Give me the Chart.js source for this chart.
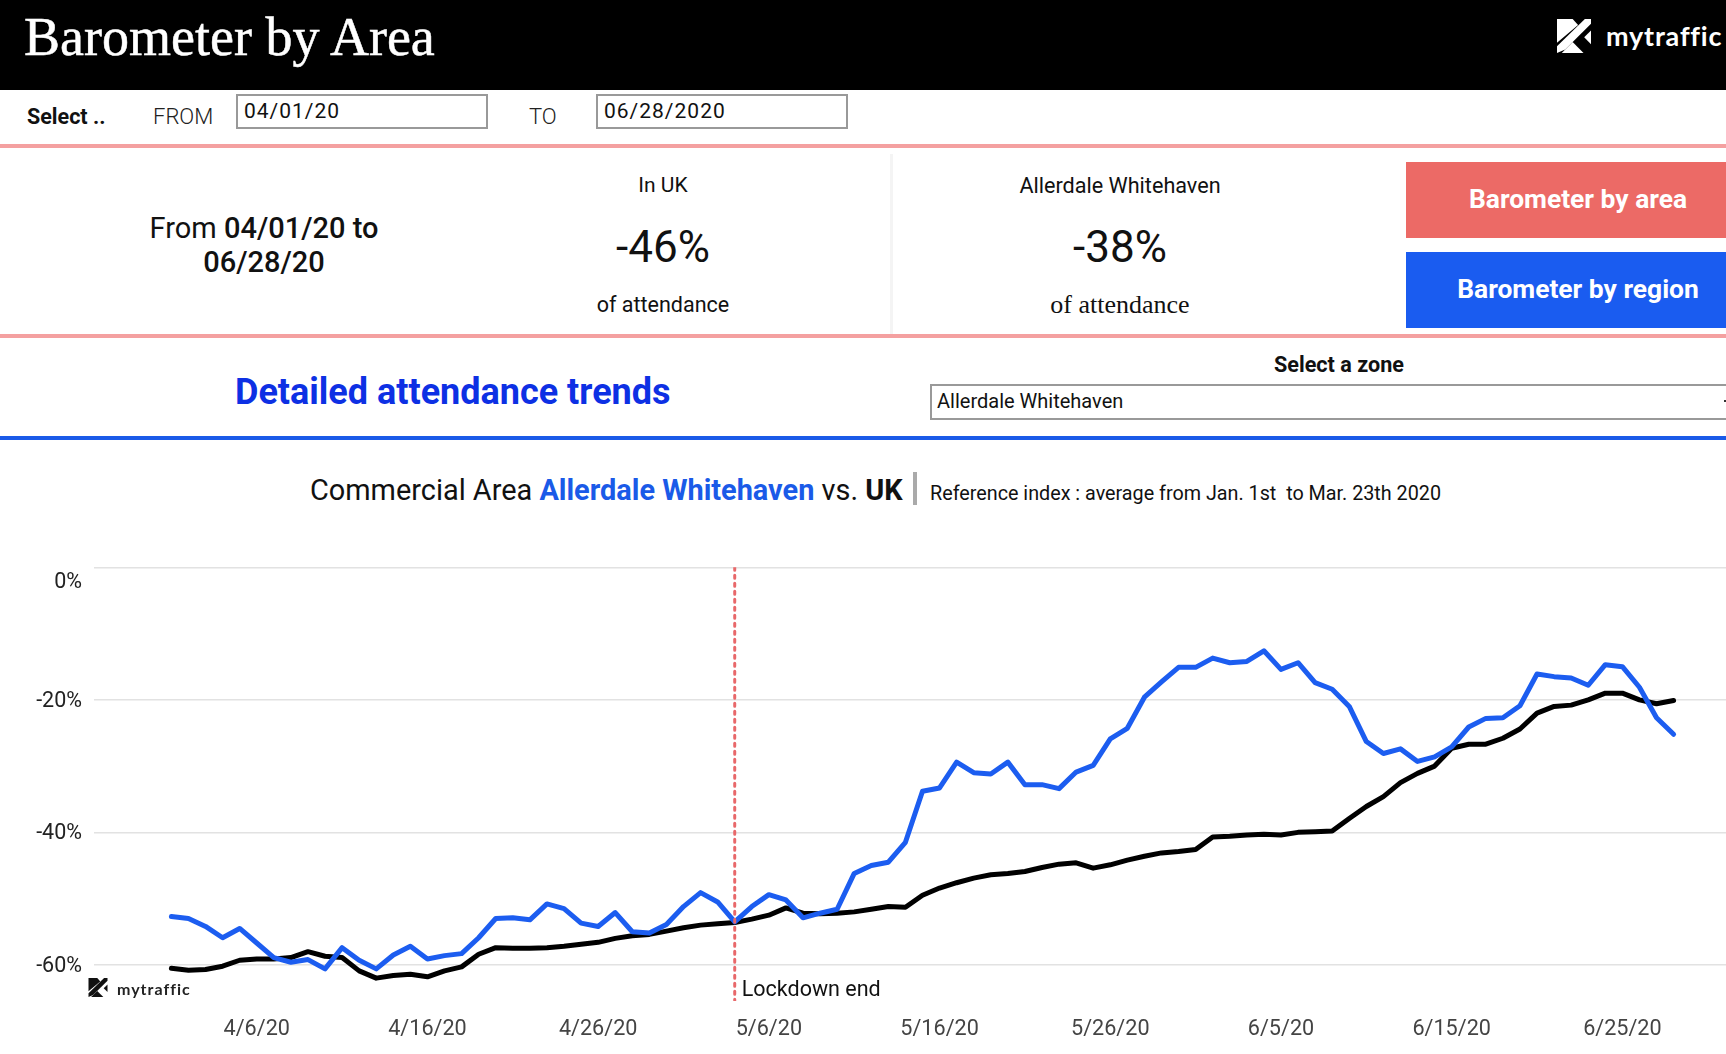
<!DOCTYPE html>
<html>
<head>
<meta charset="utf-8">
<title>Barometer by Area</title>
<script src="https://cdn.jsdelivr.net/npm/chart.js@4"></script>
<style>
    html, body { margin: 0; padding: 0; background: #fff; }
    body { position: relative; width: 1726px; height: 1054px; overflow: hidden; font-family: Roboto, sans-serif; color: #111; }
    .abs { position: absolute; }
    .t { position: absolute; white-space: nowrap; line-height: 1; transform: translateY(-50%); }
    .c { transform: translate(-50%, -50%); text-align: center; }
    .box { position: absolute; box-sizing: border-box; border: 2px solid #999; background: #fff; }
    b { font-weight: 700; }
    canvas { position: absolute; left: 0; top: 520px; }
</style>
</head>
<body>
<div class="abs" style="left:0;top:0;width:1726px;height:90px;background:#000"></div>
<div class="t" style="left:24px;top:37px;font:54px 'Liberation Serif',serif;color:#fff;-webkit-text-stroke:0.5px #fff">Barometer by Area</div>
<svg class="abs" style="left:1557px;top:19px" width="34" height="34" viewBox="0 0 100 100" fill="#fff">
    <polygon points="0,0 46,0 62,18 0,70"/>
    <polygon points="82,0 100,0 100,14 24,90 0,100 0,80"/>
    <polygon points="100,34 100,74 80,54"/>
    <polygon points="46,68 78,100 14,100"/>
</svg>
<div class="t" style="left:1606px;top:35px;font:700 27px Lato,sans-serif;color:#fff;letter-spacing:0.8px">mytraffic</div>

<div class="t" style="left:27px;top:117px;font-size:21.5px;font-weight:700">Select ..</div>
<div class="t" style="left:153px;top:117px;font-size:22px;font-weight:300;color:#222">FROM</div>
<div class="box" style="left:236px;top:94px;width:252px;height:35px"></div>
<div class="t" style="left:244px;top:111px;font-size:21px;letter-spacing:1px">04/01/20</div>
<div class="t" style="left:529px;top:117px;font-size:22px;font-weight:300;color:#222">TO</div>
<div class="box" style="left:596px;top:94px;width:252px;height:35px"></div>
<div class="t" style="left:604px;top:111px;font-size:21px;letter-spacing:1px">06/28/2020</div>

<div class="abs" style="left:0;top:144px;width:1726px;height:4px;background:#f4a0a0"></div>
<div class="abs" style="left:890px;top:154px;width:3px;height:180px;background:#f4f4f4"></div>

<div class="t c" style="left:264px;top:228px;font-size:29px">From <span style="font-weight:500">04/01/20 to</span></div>
<div class="t c" style="left:264px;top:262px;font-size:29px;font-weight:500">06/28/20</div>

<div class="t c" style="left:663px;top:185px;font-size:21px">In UK</div>
<div class="t c" style="left:663px;top:247px;font-size:44px">-46%</div>
<div class="t c" style="left:663px;top:305px;font-size:21.5px">of attendance</div>

<div class="t c" style="left:1120px;top:186px;font-size:21.6px">Allerdale Whitehaven</div>
<div class="t c" style="left:1120px;top:247px;font-size:44px">-38%</div>
<div class="t c" style="left:1120px;top:305px;font:26px 'Liberation Serif',serif">of attendance</div>

<div class="abs" style="left:1406px;top:162px;width:320px;height:76px;background:#ec6a66"></div>
<div class="t c" style="left:1578px;top:199px;font-size:26.4px;font-weight:700;color:#fff">Barometer by area</div>
<div class="abs" style="left:1406px;top:252px;width:320px;height:76px;background:#1a5cf0"></div>
<div class="t c" style="left:1578px;top:289px;font-size:26.4px;font-weight:700;color:#fff">Barometer by region</div>

<div class="abs" style="left:0;top:334px;width:1726px;height:4px;background:#f4a0a0"></div>

<div class="t" style="left:235px;top:392px;font-size:36px;font-weight:700;color:#0d30e4">Detailed attendance trends</div>
<div class="t c" style="left:1339px;top:365px;font-size:21.6px;font-weight:700">Select a zone</div>
<div class="box" style="left:930px;top:384px;width:810px;height:36px"></div>
<div class="t" style="left:937px;top:401px;font-size:20px">Allerdale Whitehaven</div>
<div class="abs" style="left:1724px;top:400px;width:2px;height:2px;background:#333"></div>

<div class="abs" style="left:0;top:436px;width:1726px;height:4px;background:#1a5ae8"></div>

<div class="t" style="left:310px;top:490px;font-size:28.9px">Commercial Area <b style="color:#1a5ae8">Allerdale Whitehaven</b> vs. <b>UK</b></div>
<div class="abs" style="left:913px;top:472px;width:4px;height:33px;background:#aaa"></div>
<div class="t" style="left:930px;top:494px;font-size:19.75px">Reference index : average from Jan. 1st&nbsp; to Mar. 23th 2020</div>

<canvas id="chart" width="1726" height="535"></canvas>

<svg class="abs" style="left:88px;top:978px" width="20" height="19" viewBox="0 0 100 100" fill="#111">
    <polygon points="0,0 46,0 62,18 0,70"/>
    <polygon points="82,0 100,0 100,14 24,90 0,100 0,80"/>
    <polygon points="100,34 100,74 80,54"/>
    <polygon points="46,68 78,100 14,100"/>
</svg>
<div class="t" style="left:117px;top:988px;font:700 16px Lato,sans-serif;color:#222;letter-spacing:1px">mytraffic</div>

<script>
// Index 0 is 4/1/20, one value per day up to 6/28/20.
const areaValues = [
    -52.7, -53.0, -54.2, -55.9, -54.5, -56.7, -58.9, -59.6, -59.2, -60.6,
    -57.4, -59.3, -60.6, -58.5, -57.2, -59.1, -58.6, -58.3, -55.9, -53.0,
    -52.9, -53.2, -50.8, -51.5, -53.7, -54.2, -52.1, -55.0, -55.2, -53.9,
    -51.2, -49.1, -50.5, -53.5, -51.2, -49.4, -50.2, -52.9, -52.2, -51.6,
    -46.2, -45.0, -44.5, -41.5, -33.8, -33.3, -29.4, -31.0, -31.2, -29.4,
    -32.8, -32.8, -33.4, -30.9, -29.9, -25.9, -24.3, -19.6, -17.3, -15.1,
    -15.1, -13.7, -14.4, -14.2, -12.6, -15.4, -14.4, -17.4, -18.4, -21.0,
    -26.3, -28.1, -27.4, -29.3, -28.6, -27.1, -24.1, -22.8, -22.7, -20.9,
    -16.1, -16.5, -16.7, -17.8, -14.7, -15.0, -18.1, -22.7, -25.2
];
const ukValues = [
    -60.5, -60.8, -60.7, -60.2, -59.3, -59.1, -59.1, -58.9, -58.0, -58.7,
    -58.9, -60.9, -62.0, -61.6, -61.4, -61.8, -60.9, -60.3, -58.4, -57.4,
    -57.5, -57.5, -57.4, -57.2, -56.9, -56.6, -56.0, -55.6, -55.4, -54.9,
    -54.4, -54.0, -53.8, -53.6, -53.1, -52.5, -51.4, -52.2, -52.3, -52.2,
    -52.0, -51.6, -51.2, -51.3, -49.5, -48.4, -47.6, -46.9, -46.4, -46.2,
    -45.9, -45.3, -44.8, -44.6, -45.4, -44.9, -44.2, -43.6, -43.1, -42.9,
    -42.6, -40.7, -40.6, -40.4, -40.3, -40.4, -40.0, -39.9, -39.8, -37.9,
    -36.1, -34.6, -32.5, -31.1, -30.0, -27.3, -26.7, -26.7, -25.8, -24.4,
    -22.0, -21.0, -20.8, -20.0, -19.0, -19.0, -20.0, -20.6, -20.1
];
const xTickIndexes = [5, 15, 25, 35, 45, 55, 65, 75, 85];
const xTickLabels = ["4/6/20", "4/16/20", "4/26/20", "5/6/20", "5/16/20", "5/26/20", "6/5/20", "6/15/20", "6/25/20"];
const yTickValues = [0, -20, -40, -60];
const lockdownIndex = 33;
const lockdownLabel = "Lockdown end";

const xMin = -4.534;
const xMax = 91.07;
const yMin = -65.45;
const yMax = 0;

function toPoints(values) {
    return values.map((value, index) => ({x: index, y: value}));
}

const lockdownText = {
    id: "lockdownText",
    afterDatasetsDraw(chart) {
        const {ctx, scales} = chart;
        ctx.save();
        ctx.font = "21.5px Roboto";
        ctx.fillStyle = "#111";
        ctx.textBaseline = "middle";
        ctx.fillText(lockdownLabel, scales.x.getPixelForValue(lockdownIndex) + 7, scales.y.getPixelForValue(-63.9));
        ctx.restore();
    }
};

new Chart(document.getElementById("chart").getContext("2d"), {
    type: "line",
    data: {
        datasets: [
            {
                data: [{x: lockdownIndex, y: yMax}, {x: lockdownIndex, y: yMin}],
                borderColor: "#e8686a",
                borderWidth: 3,
                borderDash: [3, 5]
            },
            {data: toPoints(areaValues), borderColor: "#1c5df0", borderWidth: 5},
            {data: toPoints(ukValues), borderColor: "#000", borderWidth: 5}
        ]
    },
    options: {
        responsive: false,
        animation: false,
        devicePixelRatio: 1,
        layout: {padding: {top: 47.3, left: 0, right: 0, bottom: 0}},
        elements: {
            point: {radius: 0},
            line: {tension: 0, borderCapStyle: "round", borderJoinStyle: "round"}
        },
        plugins: {legend: {display: false}, tooltip: {enabled: false}},
        scales: {
            x: {
                type: "linear",
                min: xMin,
                max: xMax,
                grid: {display: false},
                border: {display: false},
                afterBuildTicks(scale) {
                    scale.ticks = xTickIndexes.map((value) => ({value}));
                },
                afterFit(scale) {
                    scale.height = 54;
                },
                ticks: {
                    autoSkip: false,
                    maxRotation: 0,
                    padding: 8,
                    color: "#444",
                    font: {family: "Roboto", size: 21.6},
                    callback: (value) => xTickLabels[xTickIndexes.indexOf(value)]
                }
            },
            y: {
                min: yMin,
                max: yMax,
                grid: {color: "#e2e2e2", lineWidth: 1.5, drawTicks: false},
                border: {display: false},
                afterBuildTicks(scale) {
                    scale.ticks = yTickValues.map((value) => ({value}));
                },
                afterFit(scale) {
                    scale.width = 94;
                },
                ticks: {
                    padding: 12,
                    labelOffset: 1.5,
                    color: "#222",
                    // the 0% label sits under its gridline, an empty first line pushes it down
                    font: {family: "Roboto", size: 21.5, lineHeight: 1.3},
                    callback: (value) => value === 0 ? ["", "0%"] : `${value}%`
                }
            }
        }
    },
    plugins: [lockdownText]
});
</script>
</body>
</html>
